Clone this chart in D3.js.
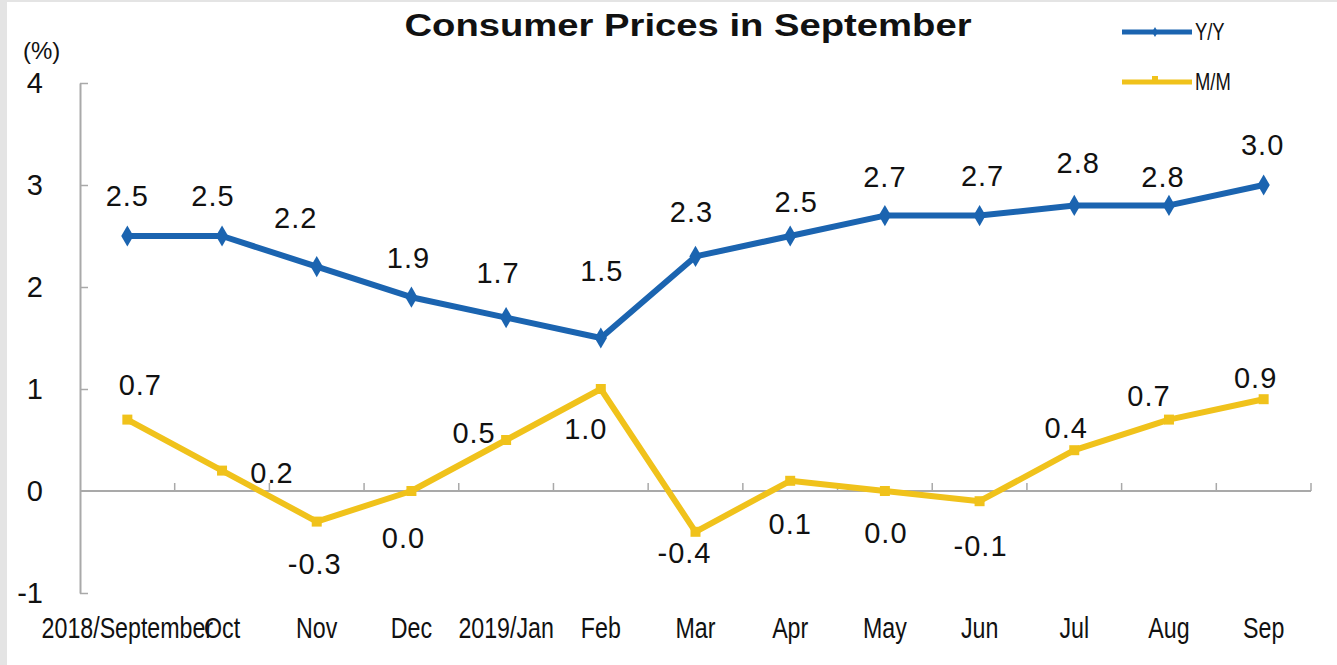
<!DOCTYPE html>
<html>
<head>
<meta charset="utf-8">
<script src="https://cdn.jsdelivr.net/npm/d3@7"></script>
<style>
  html, body { margin: 0; padding: 0; background: #ffffff; }
  svg { display: block; }
  text { font-family: Arial, "Liberation Sans", Helvetica, sans-serif; fill: #111; }
</style>
</head>
<body>
<svg id="chart" width="1337" height="665"></svg>
<script>
// ---------- data ----------
const categories = ["2018/September","Oct","Nov","Dec","2019/Jan","Feb","Mar","Apr","May","Jun","Jul","Aug","Sep"];
const yoyValues  = [2.5, 2.5, 2.2, 1.9, 1.7, 1.5, 2.3, 2.5, 2.7, 2.7, 2.8, 2.8, 3.0];
const momValues  = [0.7, 0.2, -0.3, 0.0, 0.5, 1.0, -0.4, 0.1, 0.0, -0.1, 0.4, 0.7, 0.9];
const yTickValues = [-1, 0, 1, 2, 3, 4];
const seriesNames = ["Y/Y", "M/M"];
const titleText = "Consumer Prices in September";
const unitText = "(%)";

// label placement (pixel offsets relative to each point: [dx, baseline dy])
const yoyLabelOffsets = [[0,-30],[-9,-30],[-21,-39],[-3,-29],[-8,-35],[1,-57],[-4,-34],[6,-24],[0,-29],[3,-30],[4,-32],[-6,-18],[-1,-30]];
const momLabelOffsets = [[13,-25],[50,12],[-2,52],[-8,57],[-32,3],[-15,50],[-11,31],[0,53],[1,52],[1,55],[-8,-12],[-20,-14],[-8,-11]];

// ---------- styles ----------
const BLUE = "#1b64b0";
const YELLOW = "#f0c21b";
const AXIS = "#a9a9a9";

const svg = d3.select("#chart");

// light gray edge on the left/top as in the reference
svg.append("rect").attr("x",0).attr("y",0).attr("width",1337).attr("height",665).attr("fill","#e4e4e4");
svg.append("rect").attr("x",7).attr("y",2).attr("width",1330).attr("height",663).attr("fill","#ffffff");

const x = d3.scaleBand().domain(categories).range([80, 1311]).paddingInner(0).paddingOuter(0);
const y = d3.scaleLinear().domain([-1, 4]).range([593, 83]);
const cx = c => x(c) + x.bandwidth() / 2;
const fmt1 = d => d.toFixed(1);          // plain hyphen minus, like the reference
const fmt0 = d => String(d);

// title
svg.append("text")
  .attr("x", 688).attr("y", 36)
  .attr("text-anchor", "middle")
  .attr("font-size", 32).attr("font-weight", "bold")
  .attr("textLength", 567).attr("lengthAdjust", "spacingAndGlyphs")
  .text(titleText);

// unit label
svg.append("text")
  .attr("x", 23).attr("y", 59)
  .attr("font-size", 24)
  .text(unitText);

// y axis (ticks inward)
const yAxis = d3.axisLeft(y).tickValues(yTickValues).tickFormat(fmt0)
  .tickSizeInner(-8).tickSizeOuter(0).tickPadding(37);
const gy = svg.append("g").attr("transform", "translate(80,0)").call(yAxis);
gy.select(".domain").attr("stroke", AXIS).attr("stroke-width", 2);
gy.selectAll(".tick line").attr("stroke", AXIS).attr("stroke-width", 1.5);
gy.selectAll(".tick text").attr("font-size", 29).attr("fill", "#111")
  .attr("font-family", "Arial, 'Liberation Sans', sans-serif");
gy.selectAll(".tick").filter(d => d === 0).select("line").remove();

// zero line with boundary ticks pointing up
svg.append("line")
  .attr("x1", x.range()[0]).attr("x2", x.range()[1])
  .attr("y1", y(0)).attr("y2", y(0))
  .attr("stroke", AXIS).attr("stroke-width", 2);
svg.append("g").selectAll("line")
  .data(categories)
  .join("line")
  .attr("x1", c => x(c) + x.bandwidth()).attr("x2", c => x(c) + x.bandwidth())
  .attr("y1", y(0)).attr("y2", y(0) - 8)
  .attr("stroke", AXIS).attr("stroke-width", 1.5);

// x category labels (condensed)
const xAxis = d3.axisBottom(x).tickSize(0).tickPadding(0);
const gx = svg.append("g").attr("transform", "translate(0,638)").call(xAxis);
gx.select(".domain").remove();
gx.selectAll(".tick text")
  .attr("y", 0).attr("dy", 0)
  .attr("font-size", 29).attr("fill", "#111")
  .attr("font-family", "Arial, 'Liberation Sans', sans-serif")
  .attr("transform", "scale(0.8,1)");

// lines
const line = d3.line().x((d, i) => cx(categories[i])).y(d => y(d));

svg.append("path").datum(yoyValues)
  .attr("d", line).attr("fill", "none")
  .attr("stroke", BLUE).attr("stroke-width", 6).attr("stroke-linejoin", "round");
svg.append("path").datum(momValues)
  .attr("d", line).attr("fill", "none")
  .attr("stroke", YELLOW).attr("stroke-width", 6).attr("stroke-linejoin", "round");

// markers
const diamond = d3.symbol().type(d3.symbolDiamond).size(130);
svg.append("g").selectAll("path")
  .data(yoyValues).join("path")
  .attr("d", diamond)
  .attr("transform", (d, i) => `translate(${cx(categories[i])},${y(d)})`)
  .attr("fill", BLUE);
const square = d3.symbol().type(d3.symbolSquare).size(100);
svg.append("g").selectAll("path")
  .data(momValues).join("path")
  .attr("d", square)
  .attr("transform", (d, i) => `translate(${cx(categories[i])},${y(d)})`)
  .attr("fill", YELLOW);

// data labels
svg.append("g").selectAll("text")
  .data(yoyValues).join("text")
  .attr("x", (d, i) => cx(categories[i]) + yoyLabelOffsets[i][0])
  .attr("y", (d, i) => y(d) + yoyLabelOffsets[i][1])
  .attr("text-anchor", "middle").attr("font-size", 29).attr("letter-spacing", 1)
  .text(fmt1);
svg.append("g").selectAll("text")
  .data(momValues).join("text")
  .attr("x", (d, i) => cx(categories[i]) + momLabelOffsets[i][0])
  .attr("y", (d, i) => y(d) + momLabelOffsets[i][1])
  .attr("text-anchor", "middle").attr("font-size", 29).attr("letter-spacing", 1)
  .text(fmt1);

// legend
const legend = svg.append("g");
const legendColors = [BLUE, YELLOW];
const legendSymbols = [d3.symbol().type(d3.symbolDiamond).size(30), d3.symbol().type(d3.symbolSquare).size(36)];
seriesNames.forEach((name, i) => {
  const ly = 32 + i * 50;
  legend.append("line")
    .attr("x1", 1122).attr("x2", 1192).attr("y1", ly).attr("y2", ly)
    .attr("stroke", legendColors[i]).attr("stroke-width", 5);
  legend.append("path")
    .attr("d", legendSymbols[i])
    .attr("transform", `translate(1155,${ly - (i === 1 ? 3 : 0)})`)
    .attr("fill", legendColors[i]);
  legend.append("text")
    .attr("transform", `translate(1195,${ly + 8}) scale(0.8,1)`)
    .attr("font-size", 23)
    .text(name);
});
</script>
</body>
</html>
